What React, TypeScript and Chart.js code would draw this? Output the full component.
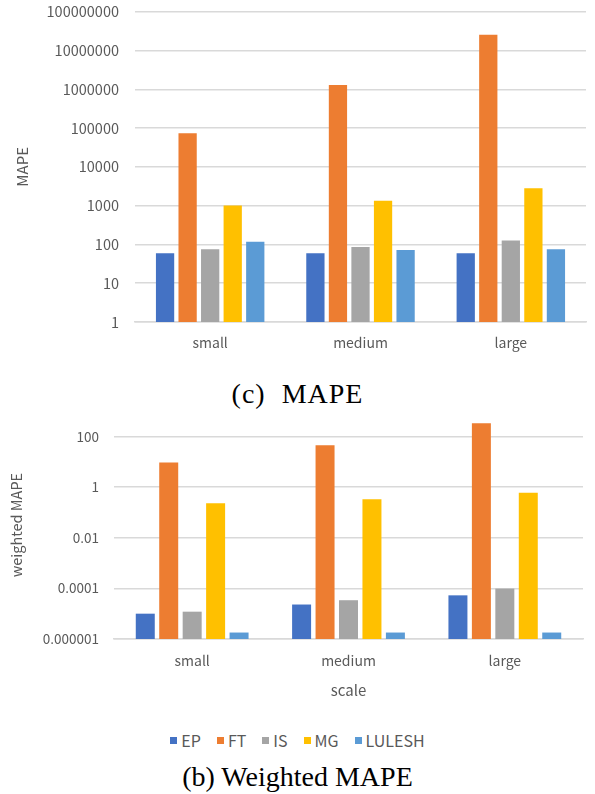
import React, { useEffect, useRef } from "react";
import { Chart, registerables } from "chart.js";

Chart.register(...registerables);

// Problem sizes on the x axis
const scaleLabels = ["small", "medium", "large"];

// Benchmarks and their bar colours
const benchmarks = ["EP", "FT", "IS", "MG", "LULESH"];
const benchmarkColors = ["#4472C4", "#ED7D31", "#A5A5A5", "#FFC000", "#5B9BD5"];

// MAPE per benchmark (small, medium, large)
const mapeEP = [59, 59, 59];
const mapeFT = [74000, 1280000, 25600000];
const mapeIS = [75, 86, 127];
const mapeMG = [1010, 1340, 2800];
const mapeLULESH = [118, 72, 75];

// Weighted MAPE per benchmark (small, medium, large)
const wmapeEP = [0.00001, 0.000023, 0.000053];
const wmapeFT = [9.3, 45, 330];
const wmapeIS = [0.000012, 0.000034, 0.000098];
const wmapeMG = [0.23, 0.33, 0.6];
const wmapeLULESH = [0.0000018, 0.0000018, 0.0000018];

// Tick values shown on the log axes
const mapeTicks = [1, 10, 100, 1000, 10000, 100000, 1000000, 10000000, 100000000];
const wmapeTicks = [0.000001, 0.0001, 0.01, 1, 100];

const FONT = '"Noto Sans CJK JP", "Noto Sans", sans-serif';
const TEXT = "#595959";
const GRID = "#d9d9d9";

function buildDatasets(values: number[][]) {
  return benchmarks.map((name, i) => ({
    label: name,
    data: values[i],
    backgroundColor: benchmarkColors[i],
    borderWidth: 0,
    categoryPercentage: 0.75,
    barPercentage: 0.81,
  }));
}

function fmt(v: number) {
  return String(v);
}

export default function App() {
  const topRef = useRef<HTMLCanvasElement | null>(null);
  const bottomRef = useRef<HTMLCanvasElement | null>(null);

  useEffect(() => {
    const top = new Chart(topRef.current!, {
      type: "bar",
      data: {
        labels: scaleLabels,
        datasets: buildDatasets([mapeEP, mapeFT, mapeIS, mapeMG, mapeLULESH]),
      },
      options: {
        animation: false,
        responsive: false,
        devicePixelRatio: 1,
        layout: { padding: { top: 0, right: 9, left: 0, bottom: 0 } },
        plugins: { legend: { display: false }, tooltip: { enabled: false } },
        scales: {
          x: {
            grid: { display: false, drawTicks: false },
            border: { color: GRID, width: 1.5 },
            ticks: { color: TEXT, padding: 12, font: { family: FONT, size: 14 } },
            afterFit: (s: any) => { s.height = 38; },
          },
          y: {
            type: "logarithmic",
            min: 1,
            max: 100000000,
            grid: { color: GRID, lineWidth: 1.5, drawTicks: false },
            border: { display: false },
            ticks: {
              color: TEXT,
              padding: 16,
              font: { family: FONT, size: 14.5 },
              callback: (v: any) => fmt(Number(v)),
            },
            afterBuildTicks: (s: any) => {
              s.ticks = mapeTicks.map((v) => ({ value: v }));
            },
            title: {
              display: true,
              text: "MAPE",
              color: TEXT,
              font: { family: FONT, size: 15 },
              padding: { top: 13, bottom: 0 },
            },
            afterFit: (s: any) => { s.width = 135; },
          },
        },
      },
    });

    const bottom = new Chart(bottomRef.current!, {
      type: "bar",
      data: {
        labels: scaleLabels,
        datasets: buildDatasets([wmapeEP, wmapeFT, wmapeIS, wmapeMG, wmapeLULESH]),
      },
      options: {
        animation: false,
        responsive: false,
        devicePixelRatio: 1,
        layout: { padding: { top: 0, right: 12, left: 0, bottom: 0 } },
        plugins: { legend: { display: false }, tooltip: { enabled: false } },
        scales: {
          x: {
            grid: { display: false, drawTicks: false },
            border: { color: GRID, width: 1.5 },
            ticks: { color: TEXT, padding: 13, font: { family: FONT, size: 14 } },
            title: {
              display: true,
              text: "scale",
              color: TEXT,
              font: { family: FONT, size: 15 },
              padding: { top: 0, bottom: 6 },
            },
            afterFit: (s: any) => { s.height = 66; },
          },
          y: {
            type: "logarithmic",
            min: 0.000001,
            max: 1000,
            grid: { color: GRID, lineWidth: 1.5, drawTicks: false },
            border: { display: false },
            ticks: {
              color: TEXT,
              padding: 15,
              font: { family: FONT, size: 13.5 },
              callback: (v: any) => fmt(Number(v)),
            },
            afterBuildTicks: (s: any) => {
              s.ticks = wmapeTicks.map((v) => ({ value: v }));
            },
            title: {
              display: true,
              text: "weighted MAPE",
              color: TEXT,
              font: { family: FONT, size: 14.5 },
              padding: { top: 8, bottom: 0 },
            },
            afterFit: (s: any) => { s.width = 114; },
          },
        },
      },
    });

    return () => {
      top.destroy();
      bottom.destroy();
    };
  }, []);

  const captionStyle: React.CSSProperties = {
    position: "absolute",
    left: 0,
    width: 595,
    textAlign: "center",
    fontFamily: '"Liberation Serif", "DejaVu Serif", serif',
    fontSize: 28,
    lineHeight: "32px",
    color: "#000",
    whiteSpace: "pre",
  };

  return (
    <div style={{ position: "absolute", left: 0, top: 0, width: 595, height: 794, background: "#fff", overflow: "hidden" }}>
      <canvas ref={topRef} width={595} height={373} style={{ position: "absolute", left: 0, top: -13 }} />
      <div style={{ ...captionStyle, top: 378, letterSpacing: 1 }}>{"(c)  MAPE"}</div>
      <canvas ref={bottomRef} width={595} height={317} style={{ position: "absolute", left: 0, top: 388 }} />
      <div
        style={{
          position: "absolute",
          top: 730,
          left: 0,
          width: 595,
          display: "flex",
          justifyContent: "center",
          gap: 16,
          fontFamily: FONT,
          fontSize: 16,
          lineHeight: "20px",
          color: TEXT,
        }}
      >
        {benchmarks.map((name, i) => (
          <span key={name} style={{ display: "flex", alignItems: "center" }}>
            <span style={{ width: 7, height: 7, background: benchmarkColors[i], marginRight: 4, display: "inline-block" }} />
            {name}
          </span>
        ))}
      </div>
      <div style={{ ...captionStyle, top: 761 }}>{"(b) Weighted MAPE"}</div>
    </div>
  );
}
